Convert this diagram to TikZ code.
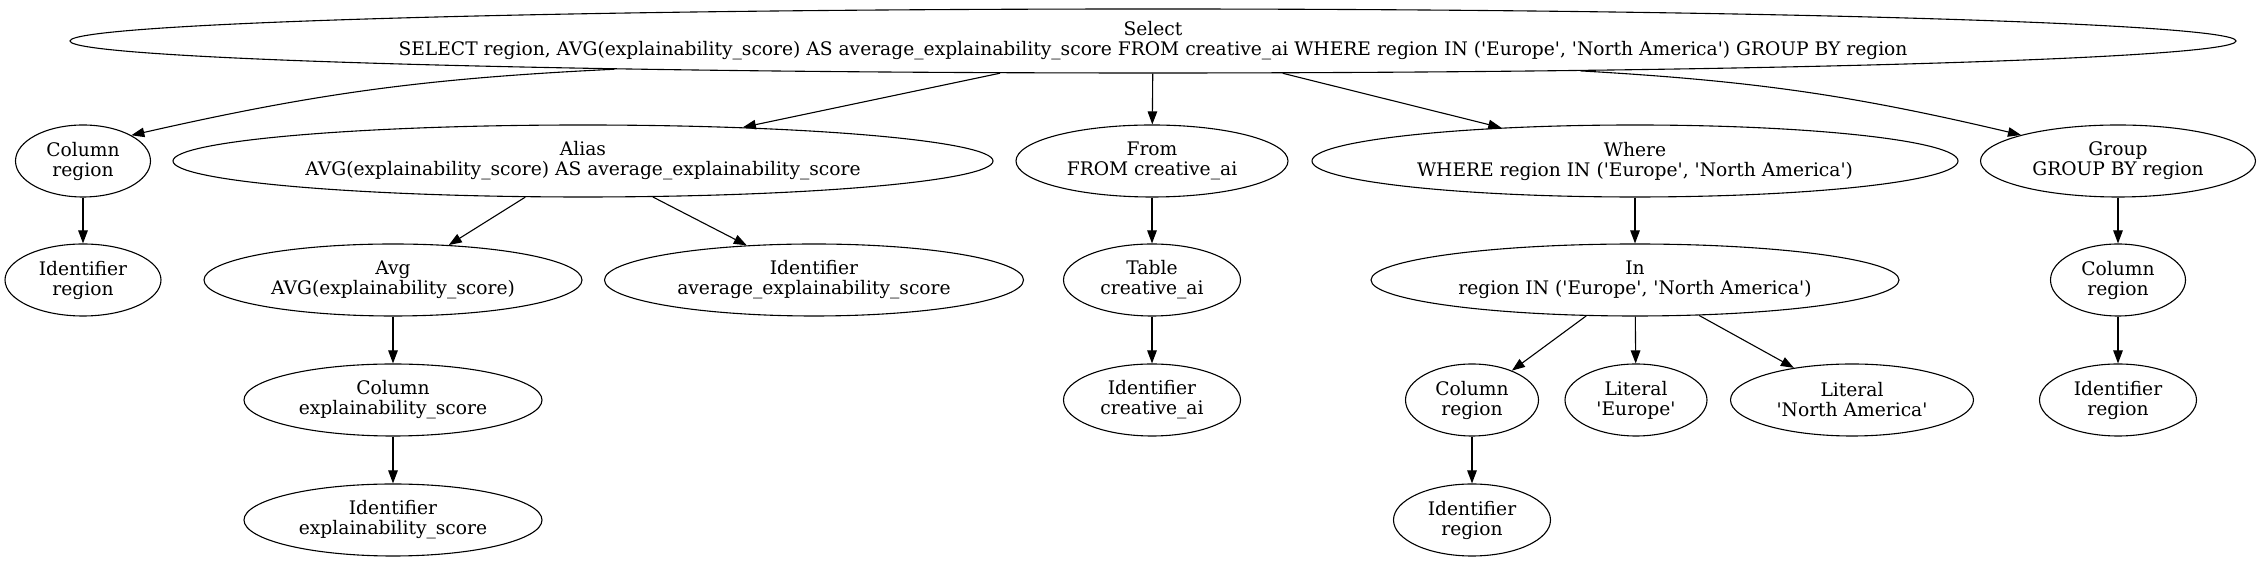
\documentclass[tikz,border=0pt]{standalone}
\usepackage{fontspec}
\setmainfont{DejaVu Serif}
\usetikzlibrary{arrows.meta,shapes.geometric}
\newcommand{\sq}{\textquotesingle}

\begin{document}
\begin{tikzpicture}[
    x=1pt, y=1pt,
    ast/.style={ellipse, draw, line width=1.1pt, inner sep=0pt,
                minimum height=72pt, align=center,
                font=\fontsize{18.67}{20}\selectfont},
    arr/.style={-{Triangle[length=13pt, width=9.5pt]}, line width=1.1pt},
  ]
  \useasboundingbox (0,0) rectangle (2260,561);

  % Root
  \node[ast, minimum width=2166pt, minimum height=64pt] (root) at (1153,520)
    {Select\\SELECT region, AVG(explainability\_score) AS average\_explainability\_score FROM creative\_ai WHERE region IN (\sq Europe\sq, \sq North America\sq) GROUP BY region};

  % Level 1
  \node[ast, minimum width=135pt] (col1)  at (83,400)   {Column\\region};
  \node[ast, minimum width=820pt] (alias) at (583,400)  {Alias\\AVG(explainability\_score) AS average\_explainability\_score};
  \node[ast, minimum width=272pt] (from)  at (1152,400) {From\\FROM creative\_ai};
  \node[ast, minimum width=646pt] (where) at (1635,400) {Where\\WHERE region IN (\sq Europe\sq, \sq North America\sq)};
  \node[ast, minimum width=275pt] (group) at (2118,400) {Group\\GROUP BY region};

  % Level 2
  \node[ast, minimum width=156pt] (id1)   at (83,281)   {Identifier\\region};
  \node[ast, minimum width=378pt] (avg)   at (393,281)  {Avg\\AVG(explainability\_score)};
  \node[ast, minimum width=419pt] (idavg) at (814,281)  {Identifier\\average\_explainability\_score};
  \node[ast, minimum width=177pt] (table) at (1152,281) {Table\\creative\_ai};
  \node[ast, minimum width=528pt] (in)    at (1635,281) {In\\region IN (\sq Europe\sq, \sq North America\sq)};
  \node[ast, minimum width=135pt] (colg)  at (2118,281) {Column\\region};

  % Level 3
  \node[ast, minimum width=298pt] (colexp) at (393,161)  {Column\\explainability\_score};
  \node[ast, minimum width=177pt] (idcre)  at (1152,161) {Identifier\\creative\_ai};
  \node[ast, minimum width=133pt] (colr)   at (1472,161) {Column\\region};
  \node[ast, minimum width=142pt] (lit1)   at (1636,161) {Literal\\\sq Europe\sq};
  \node[ast, minimum width=243pt] (lit2)   at (1852,161) {Literal\\\sq North America\sq};
  \node[ast, minimum width=157pt] (idg)    at (2118,161) {Identifier\\region};

  % Level 4
  \node[ast, minimum width=298pt] (idexp) at (393,41)  {Identifier\\explainability\_score};
  \node[ast, minimum width=157pt] (idr)   at (1472,41) {Identifier\\region};

  % Edges from the root
  \draw[arr] (root.183) to[bend right=5] (col1.28);
  \draw[arr] (root) -- (alias);
  \draw[arr] (root) -- (from);
  \draw[arr] (root) -- (where);
  \draw[arr] (root.356) to[bend left=5] (group.165);

  % Inner edges
  \draw[arr] (col1) -- (id1);
  \draw[arr] (alias) -- (avg);
  \draw[arr] (alias) -- (idavg);
  \draw[arr] (from) -- (table);
  \draw[arr] (where) -- (in);
  \draw[arr] (group) -- (colg);
  \draw[arr] (avg) -- (colexp);
  \draw[arr] (table) -- (idcre);
  \draw[arr] (in) -- (colr);
  \draw[arr] (in) -- (lit1);
  \draw[arr] (in) -- (lit2);
  \draw[arr] (colg) -- (idg);
  \draw[arr] (colexp) -- (idexp);
  \draw[arr] (colr) -- (idr);
\end{tikzpicture}
\end{document}
